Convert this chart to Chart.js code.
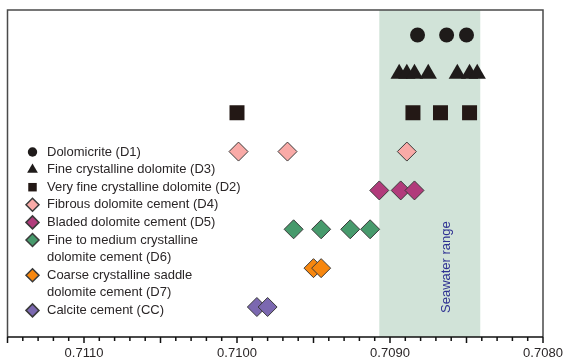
<!DOCTYPE html>
<html>
<head>
<meta charset="utf-8">
<script src="https://cdn.jsdelivr.net/npm/chart.js@4.4.1/dist/chart.umd.min.js"></script>
<style>html,body{margin:0;background:#fff}</style>
</head>
<body>
<canvas id="c" width="565" height="361"></canvas>
<script>
// 87Sr/86Sr values per phase (row = position from top)
var names = ['Dolomicrite (D1)', 'Fine crystalline dolomite (D3)', 'Very fine crystalline dolomite (D2)',
  'Fibrous dolomite cement (D4)', 'Bladed dolomite cement (D5)',
  'Fine to medium crystalline\ndolomite cement (D6)', 'Coarse crystalline saddle\ndolomite cement (D7)',
  'Calcite cement (CC)'];
var d1 = [0.70882, 0.70863, 0.70850];
var d3 = [0.70894, 0.70889, 0.70884, 0.70875, 0.70856, 0.70848, 0.70843];
var d2 = [0.71000, 0.70885, 0.70867, 0.70848];
var d4 = [0.70999, 0.70967, 0.70889];
var d5 = [0.70907, 0.70893, 0.70884];
var d6 = [0.70963, 0.70945, 0.70926, 0.70913];
var d7 = [0.70950, 0.70945];
var cc = [0.70987, 0.70980];
var seawater = [0.70907, 0.70841];
var xTicks = [0.7080, 0.7090, 0.7100, 0.7110];

var allValues = [d1, d3, d2, d4, d5, d6, d7, cc];
var styles = ['circle', 'triangle', 'rect', 'rectRot', 'rectRot', 'rectRot', 'rectRot', 'rectRot'];
var fills = ['#1f1b1a', '#1f1b1a', '#231815', '#f9aaa7', '#b13b7b', '#479a6c', '#f7870f', '#7b68b0'];
var radii = [7.5, 10, 10.6, 9.5, 9.5, 9.5, 9.5, 9.5];
var legendRadii = [4.7, 6.2, 6, 6.5, 6.5, 6.5, 6.5, 6.5];
var FONT = '13px "Liberation Sans", Arial, sans-serif';
var TEXT = '#2a2627';

var datasets = allValues.map(function (vals, i) {
  var diamond = styles[i] === 'rectRot';
  return {
    label: names[i],
    data: vals.map(function (v) { return {x: v, y: i + 1}; }),
    pointStyle: styles[i],
    pointRadius: radii[i],
    pointHoverRadius: radii[i],
    backgroundColor: fills[i],
    borderColor: diamond ? '#3a3a3a' : fills[i],
    borderWidth: diamond ? 1 : 0
  };
});

var deco = {
  id: 'deco',
  beforeDatasetsDraw: function (chart) {
    var ctx = chart.ctx, a = chart.chartArea, x = chart.scales.x;
    var p1 = x.getPixelForValue(seawater[0]), p2 = x.getPixelForValue(seawater[1]);
    ctx.save();
    ctx.fillStyle = '#d1e3d8';
    ctx.fillRect(Math.min(p1, p2), a.top, Math.abs(p2 - p1), a.bottom - a.top);
    ctx.translate(x.getPixelForValue(0.70863), a.bottom - 24);
    ctx.rotate(-Math.PI / 2);
    ctx.font = FONT;
    ctx.fillStyle = '#2e3192';
    ctx.textAlign = 'left';
    ctx.textBaseline = 'middle';
    ctx.fillText('Seawater range', 0, 0);
    ctx.restore();
  },
  afterDraw: function (chart) {
    var ctx = chart.ctx, a = chart.chartArea, x = chart.scales.x;
    ctx.save();
    // frame
    ctx.strokeStyle = '#4a4a4a';
    ctx.lineWidth = 1.5;
    ctx.beginPath();
    ctx.moveTo(a.left, a.bottom);
    ctx.lineTo(a.left, a.top);
    ctx.lineTo(a.right, a.top);
    ctx.lineTo(a.right, a.bottom);
    ctx.stroke();
    // axis line and ticks
    ctx.strokeStyle = '#111';
    ctx.beginPath();
    ctx.moveTo(a.left, a.bottom);
    ctx.lineTo(a.right, a.bottom);
    x.ticks.forEach(function (t) {
      var px = x.getPixelForValue(t.value);
      var len = Math.round(t.value * 1e4) % 5 === 0 ? 6 : 4;
      ctx.moveTo(px, a.bottom);
      ctx.lineTo(px, a.bottom + len);
    });
    ctx.stroke();
    // legend
    ctx.font = FONT;
    ctx.textBaseline = 'middle';
    ctx.textAlign = 'left';
    var yy = 152;
    chart.data.datasets.forEach(function (ds, i) {
      ctx.fillStyle = ds.backgroundColor;
      ctx.strokeStyle = ds.borderColor;
      Chart.helpers.drawPoint(ctx, {pointStyle: ds.pointStyle, radius: legendRadii[i], rotation: 0,
        borderWidth: ds.borderWidth}, 32.5, yy);
      ctx.fillStyle = TEXT;
      ds.label.split('\n').forEach(function (line) {
        ctx.fillText(line, 47, yy);
        yy += 17.6;
      });
    });
    ctx.restore();
  }
};

new Chart(document.getElementById('c'), {
  type: 'scatter',
  data: {datasets: datasets},
  options: {
    responsive: false,
    animation: false,
    layout: {autoPadding: false, padding: {left: 7.5, right: 22, top: 10, bottom: 0}},
    plugins: {legend: {display: false}, tooltip: {enabled: false}},
    scales: {
      x: {
        type: 'linear',
        reverse: true,
        min: 0.7080,
        max: 0.7115,
        afterFit: function (s) { s.height = 24; s.paddingLeft = 0; s.paddingRight = 0; },
        grid: {display: false, drawTicks: true, tickLength: 6},
        border: {display: false},
        ticks: {
          stepSize: 0.0001,
          autoSkip: false,
          maxRotation: 0,
          padding: 3,
          color: TEXT,
          font: {family: '"Liberation Sans", Arial, sans-serif', size: 13},
          callback: function (v) {
            for (var k = 0; k < xTicks.length; k++) {
              if (Math.abs(v - xTicks[k]) < 1e-7) return xTicks[k].toFixed(4);
            }
            return '';
          }
        }
      },
      y: {
        type: 'linear',
        display: false,
        reverse: true,
        min: 0.357,
        max: 8.772
      }
    }
  },
  plugins: [deco]
});
</script>
</body>
</html>
